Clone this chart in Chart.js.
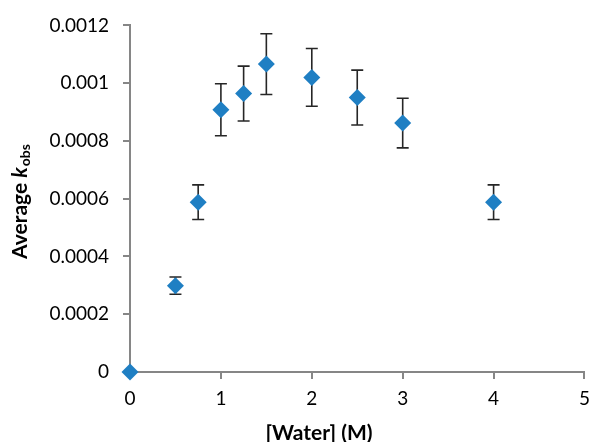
<!DOCTYPE html>
<html>
<head>
<meta charset="utf-8">
<script src="https://cdn.jsdelivr.net/npm/chart.js@4"></script>
<style>
    html, body { margin: 0; padding: 0; background: #fff; }
    #wrap { width: 598px; height: 442px; }
</style>
</head>
<body>
<div id="wrap"><canvas id="kobsChart"></canvas></div>
<script>
// water concentration (M) and averaged k_obs with error
const waterConc = [0, 0.5, 0.75, 1, 1.25, 1.5, 2, 2.5, 3, 4];
const kobsAvg = [0, 0.000299, 0.000588, 0.000908, 0.000964, 0.001066, 0.00102, 0.00095, 0.000862, 0.000588];
const kobsErr = [0, 0.00003, 0.00006, 0.00009, 0.000095, 0.000105, 0.0001, 0.000095, 0.000086, 0.00006];
const xTicks = [0, 1, 2, 3, 4, 5];
const yTicks = [0, 0.0002, 0.0004, 0.0006, 0.0008, 0.001, 0.0012];

const FONT = "Lato";
const AXIS_GREY = "#868686";

// error bars, drawn behind the markers
const errorBarPlugin = {
    id: "errorBars",
    beforeDatasetsDraw(chart) {
        const { ctx, scales: { x, y } } = chart;
        ctx.save();
        ctx.strokeStyle = "#262626";
        ctx.lineWidth = 1.6;
        waterConc.forEach((w, i) => {
            if (!kobsErr[i]) return;
            const px = x.getPixelForValue(w);
            const top = y.getPixelForValue(kobsAvg[i] + kobsErr[i]);
            const bot = y.getPixelForValue(kobsAvg[i] - kobsErr[i]);
            ctx.beginPath();
            ctx.moveTo(px, top); ctx.lineTo(px, bot);
            ctx.moveTo(px - 6, top); ctx.lineTo(px + 6, top);
            ctx.moveTo(px - 6, bot); ctx.lineTo(px + 6, bot);
            ctx.stroke();
        });
        ctx.restore();
    }
};

// axis titles (y title needs italic k and subscript)
const axisTitlePlugin = {
    id: "axisTitles",
    afterDraw(chart) {
        const ctx = chart.ctx;
        ctx.save();
        ctx.fillStyle = "#000";
        ctx.textBaseline = "middle";
        ctx.textAlign = "center";
        ctx.font = "bold 21px " + FONT;
        ctx.fillText("[Water] (M)", 319, 433);

        // rotated y title
        ctx.translate(20, 202);
        ctx.rotate(-Math.PI / 2);
        const partA = "Average ";
        const partK = "k";
        const partSub = "obs";
        ctx.font = "bold 21px " + FONT;
        const wA = ctx.measureText(partA).width;
        ctx.font = "italic bold 21px " + FONT;
        const wK = ctx.measureText(partK).width;
        ctx.font = "bold 14px " + FONT;
        const wS = ctx.measureText(partSub).width;
        let cx = -(wA + wK + wS) / 2;
        ctx.textAlign = "left";
        ctx.font = "bold 21px " + FONT;
        ctx.fillText(partA, cx, 0);
        cx += wA;
        ctx.font = "italic bold 21px " + FONT;
        ctx.fillText(partK, cx, 0);
        cx += wK + 1;
        ctx.font = "bold 14px " + FONT;
        ctx.fillText(partSub, cx, 5);
        ctx.restore();
    }
};

new Chart(document.getElementById("kobsChart"), {
    type: "scatter",
    data: {
        datasets: [{
            label: "Average kobs",
            data: waterConc.map((w, i) => ({ x: w, y: kobsAvg[i] })),
            pointStyle: "rectRot",
            pointRadius: 8.5,
            pointHoverRadius: 8.5,
            backgroundColor: "#1f7fc3",
            borderColor: "#1f7fc3",
            borderWidth: 0,
            clip: false
        }]
    },
    options: {
        responsive: true,
        maintainAspectRatio: false,
        animation: false,
        layout: { padding: { left: 0, right: 6, top: 23, bottom: 0 } },
        plugins: {
            legend: { display: false },
            tooltip: { enabled: false }
        },
        scales: {
            x: {
                type: "linear",
                min: 0,
                max: 5,
                afterBuildTicks: s => { s.ticks = xTicks.map(v => ({ value: v })); },
                afterFit: s => { s.height = 70; },
                grid: { drawOnChartArea: false, drawTicks: true, tickLength: 7, color: AXIS_GREY, lineWidth: 2 },
                border: { color: AXIS_GREY, width: 2 },
                ticks: {
                    color: "#000",
                    padding: 8,
                    font: { family: FONT, size: 19 },
                    callback: v => String(v)
                }
            },
            y: {
                type: "linear",
                min: 0,
                max: 0.0012,
                afterBuildTicks: s => { s.ticks = yTicks.map(v => ({ value: v })); },
                afterFit: s => { s.width = 130; },
                grid: { drawOnChartArea: false, drawTicks: true, tickLength: 7, color: AXIS_GREY, lineWidth: 2 },
                border: { color: AXIS_GREY, width: 2 },
                ticks: {
                    color: "#000",
                    padding: 14,
                    font: { family: FONT, size: 19 },
                    callback: v => String(Number(v.toFixed(4)))
                }
            }
        }
    },
    plugins: [errorBarPlugin, axisTitlePlugin]
});
</script>
</body>
</html>
